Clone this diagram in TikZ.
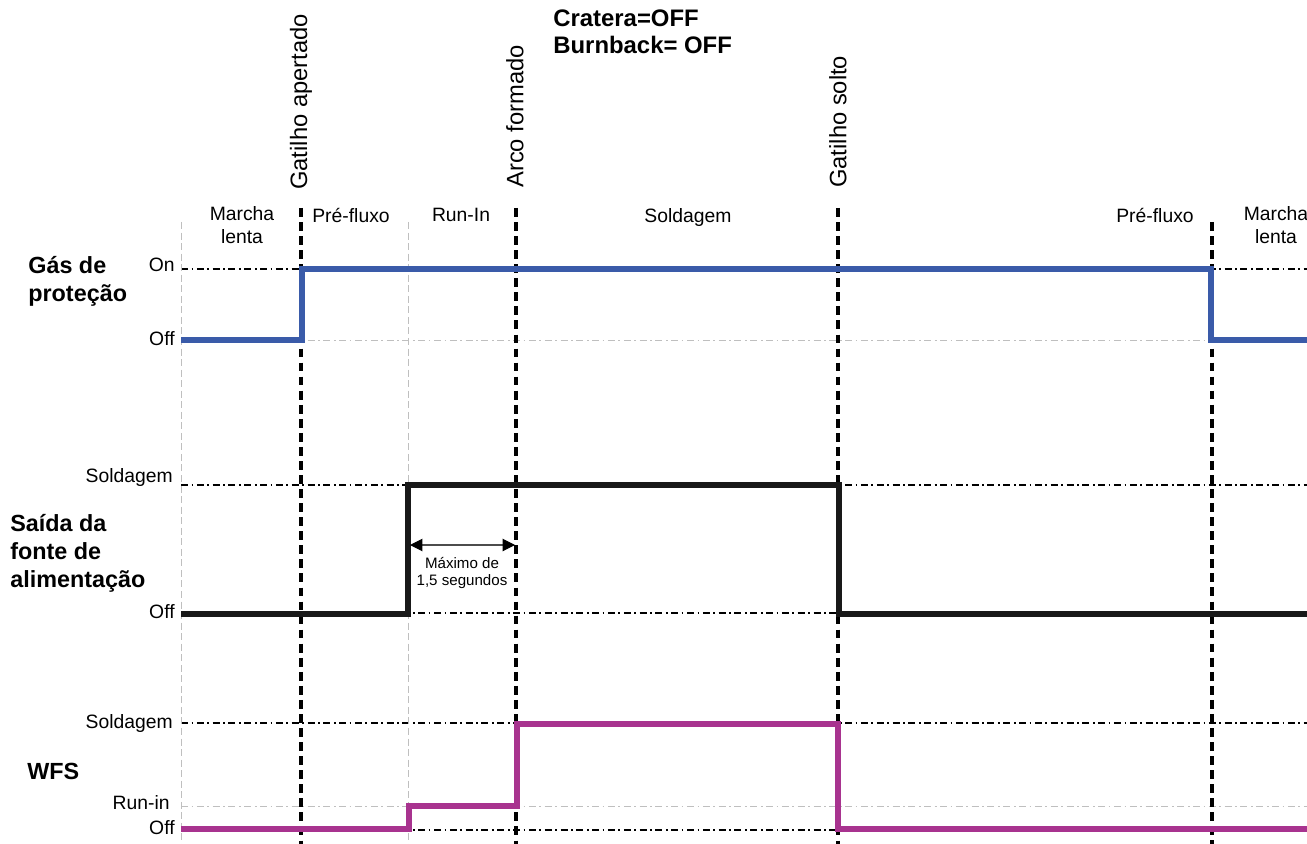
\documentclass[tikz,border=0pt]{standalone}
\usepackage{fontspec}
\setmainfont{Liberation Sans}
\usetikzlibrary{arrows.meta, positioning}
\definecolor{gasblue}{HTML}{3A5BA9}
\definecolor{wfsmag}{HTML}{A8338F}

\begin{document}
\begin{tikzpicture}[
    x=0.02cm, y=-0.02cm,
    level/.style={font=\fontsize{11}{13}\selectfont, anchor=east, inner sep=0pt},
    phase/.style={font=\fontsize{11}{13}\selectfont, align=center, anchor=north, inner sep=0pt},
    event/.style={font=\fontsize{13.5}{16}\selectfont, rotate=90, anchor=west, inner sep=0pt},
    signame/.style={font=\bfseries\fontsize{13.3}{16}\selectfont, align=left, anchor=west, inner sep=0pt},
    mainmark/.style={line width=1.9pt, dash pattern=on 5pt off 3pt},
    minormark/.style={black!25, line width=0.5pt, dash pattern=on 4pt off 2pt},
    mainlevel/.style={line width=1.4pt, dash pattern=on 4pt off 2pt on 1pt off 2pt},
    minorlevel/.style={black!25, line width=0.5pt, dash pattern=on 4pt off 2pt on 1pt off 2pt},
    signal/.style={line width=3pt, line join=miter},
    span/.style={{Triangle[length=7pt,width=7pt,color=black]}-{Triangle[length=7pt,width=7pt,color=black]}, line width=0.6pt, draw=black!70}
]
    \useasboundingbox (0,0) rectangle (1307,844);

    % title
    \node[signame, font=\bfseries\fontsize{13.6}{15.3}\selectfont] (title) at (553,32) {Cratera=OFF\\Burnback= OFF};

    % events
    \node[event] (trigpress) at (301,190) {Gatilho apertado};
    \node[event] (arcon) at (515,188) {Arco formado};
    \node[event] (trigfree) at (838,188) {Gatilho solto};

    % phases
    \node[phase] (idleA) at (242,206) {Marcha\\lenta};
    \node[phase] (preA) at (351,208) {Pré-fluxo};
    \node[phase] (runin) at (461,208) {Run-In};
    \node[phase] (weld) at (688,208) {Soldagem};
    \node[phase] (preB) at (1155,208) {Pré-fluxo};
    \node[phase] (idleB) at (1276,206) {Marcha\\lenta};

    % signal names
    \node[signame] (gas) at (28,281) {Gás de\\proteção};
    \node[signame] (power) at (10,553) {Saída da\\fonte de\\alimentação};
    \node[signame] (wfs) at (27,771) {WFS};

    % level labels
    \node[level] (gasOn) at (175,265) {On};
    \node[level] (gasOff) at (175,339) {Off};
    \node[level] (powWeld) at (173,477) {Soldagem};
    \node[level] (powOff) at (175,612) {Off};
    \node[level] (wfsWeld) at (173,723) {Soldagem};
    \node[level] (wfsRun) at (170,803) {Run-in};
    \node[level] (wfsOff) at (175,828) {Off};

    % level lines
    \draw[mainlevel] (181,269) -- (1307,269);
    \draw[minorlevel] (181,340) -- (1307,340);
    \draw[mainlevel] (181,485) -- (1307,485);
    \draw[mainlevel] (181,613) -- (1307,613);
    \draw[mainlevel] (181,723) -- (1307,723);
    \draw[minorlevel] (181,806) -- (1307,806);
    \draw[mainlevel] (181,830) -- (1307,830);

    % time marks
    \draw[minormark] (181,222) -- (181,844);
    \draw[mainmark] (301,208) -- (301,844);
    \draw[minormark] (408,222) -- (408,844);
    \draw[mainmark] (516,208) -- (516,844);
    \draw[mainmark] (838,208) -- (838,844);
    \draw[mainmark] (1212,222) -- (1212,844);

    % signals
    \draw[signal, gasblue] (181,340) -- (302,340) -- (302,269) -- (1211,269) -- (1211,340) -- (1307,340);
    \draw[signal, black!90] (181,614) -- (408,614) -- (408,485) -- (839,485) -- (839,614) -- (1307,614);
    \draw[signal, wfsmag] (181,829) -- (409,829) -- (409,806) -- (517,806) -- (517,724) -- (838,724) -- (838,829) -- (1307,829);

    % run-in limit
    \coordinate (spanA) at (410,545);
    \coordinate (spanB) at (515,545);
    \draw[span] (spanA) -- (spanB);
    \node[font=\fontsize{8.6}{9.8}\selectfont, align=center] (maxtime) at (462,573) {Máximo de\\1,5 segundos};
\end{tikzpicture}
\end{document}
